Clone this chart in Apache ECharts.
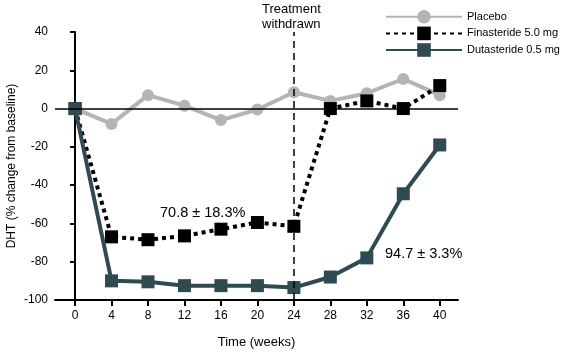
<!DOCTYPE html>
<html lang="en">
<head>
<meta charset="UTF-8">
<title>DHT change</title>
<style>
  html, body { margin: 0; padding: 0; background: #fff; }
  #chart { width: 563px; height: 358px; }
</style>
</head>
<body>
<div id="chart"></div>
<script src="https://cdn.jsdelivr.net/npm/echarts@6/dist/echarts.min.js"></script>
<script>
    var weeks = [0, 4, 8, 12, 16, 20, 24, 28, 32, 36, 40];
    var placebo = [0, -8, 7, 1.5, -6, -0.5, 8.5, 4, 8, 15.5, 7];
    var finasteride = [0, -67, -68.5, -66.5, -63, -59.5, -61.5, 0, 4, 0, 12];
    var dutasteride = [0, -90, -90.5, -92.5, -92.5, -92.5, -93.5, -88, -78, -44.5, -19];
    var xTicks = [0, 4, 8, 12, 16, 20, 24, 28, 32, 36, 40];
    var withdrawWeek = 24;

    function pairs(vals) {
        var out = [];
        for (var i = 0; i < weeks.length; i++) {
            out.push([weeks[i], vals[i]]);
        }
        return out;
    }

    var font = '"Liberation Sans", Arial, sans-serif';
    var chart = echarts.init(document.getElementById('chart'));

    var option = {
        animation: false,
        backgroundColor: '#fff',
        textStyle: { fontFamily: font },
        grid: { left: 55, right: 105, top: 32, bottom: 58, outerBoundsMode: 'none' },
        legend: {
            orient: 'vertical',
            left: 380,
            top: 5,
            itemWidth: 76,
            itemHeight: 17,
            itemGap: 3,
            textStyle: { fontFamily: font, fontSize: 11, color: '#000' },
            data: ['Placebo', 'Finasteride 5.0 mg', 'Dutasteride 0.5 mg']
        },
        xAxis: {
            type: 'value',
            min: -2.2,
            max: 42,
            name: 'Time (weeks)',
            nameLocation: 'middle',
            nameGap: 36,
            nameTextStyle: { fontFamily: font, fontSize: 13, color: '#000' },
            splitLine: { show: false },
            axisLine: { onZero: false, lineStyle: { color: '#000', width: 2 } },
            axisTick: { customValues: xTicks, length: 6, lineStyle: { color: '#000', width: 2 } },
            axisLabel: { customValues: xTicks, color: '#000', fontSize: 12, fontFamily: font, margin: 10 }
        },
        yAxis: {
            type: 'value',
            min: -100,
            max: 40,
            interval: 20,
            name: 'DHT (% change from baseline)',
            nameLocation: 'middle',
            nameGap: 37,
            nameMoveOverlap: false,
            nameTextStyle: { fontFamily: font, fontSize: 12, color: '#000' },
            splitLine: { show: false },
            axisLine: { show: true, lineStyle: { color: '#000', width: 2 } },
            axisTick: { show: true, length: 5, lineStyle: { color: '#000', width: 2 } },
            axisLabel: { color: '#000', fontSize: 12, fontFamily: font, margin: 7 }
        },
        graphic: [
            {
                type: 'text', left: 262, top: 2,
                style: { text: 'Treatment\nwithdrawn', fontFamily: font, fontSize: 13, fill: '#000', align: 'center', lineHeight: 15 }
            },
            {
                type: 'text', left: 160, top: 205,
                style: { text: '70.8 ± 18.3%', fontFamily: font, fontSize: 14.5, fill: '#000' }
            },
            {
                type: 'text', left: 385, top: 246,
                style: { text: '94.7 ± 3.3%', fontFamily: font, fontSize: 14.5, fill: '#000' }
            }
        ],
        series: [
            {
                name: 'Placebo',
                type: 'line',
                data: pairs(placebo),
                symbol: 'circle',
                symbolSize: 12,
                itemStyle: { color: '#b4b4b4' },
                lineStyle: { color: '#b4b4b4', width: 4 },
                z: 2,
                markLine: {
                    silent: true,
                    symbol: 'none',
                    label: { show: false },
                    lineStyle: { color: '#000', width: 1.5, type: 'solid' },
                    data: [{ yAxis: 0 }]
                }
            },
            {
                name: 'Finasteride 5.0 mg',
                type: 'line',
                data: pairs(finasteride),
                symbol: 'rect',
                symbolSize: 13,
                itemStyle: { color: '#000' },
                lineStyle: { color: '#000', width: 4, type: [4, 4] },
                z: 3,
                markLine: {
                    silent: true,
                    symbol: 'none',
                    label: { show: false },
                    lineStyle: { color: '#000', width: 1.5, type: [7, 5] },
                    data: [{ xAxis: withdrawWeek }]
                }
            },
            {
                name: 'Dutasteride 0.5 mg',
                type: 'line',
                data: pairs(dutasteride),
                symbol: 'rect',
                symbolSize: 13,
                itemStyle: { color: '#2f4a50' },
                lineStyle: { color: '#2f4a50', width: 4 },
                z: 4
            }
        ]
    };
    chart.setOption(option);
</script>
</body>
</html>
